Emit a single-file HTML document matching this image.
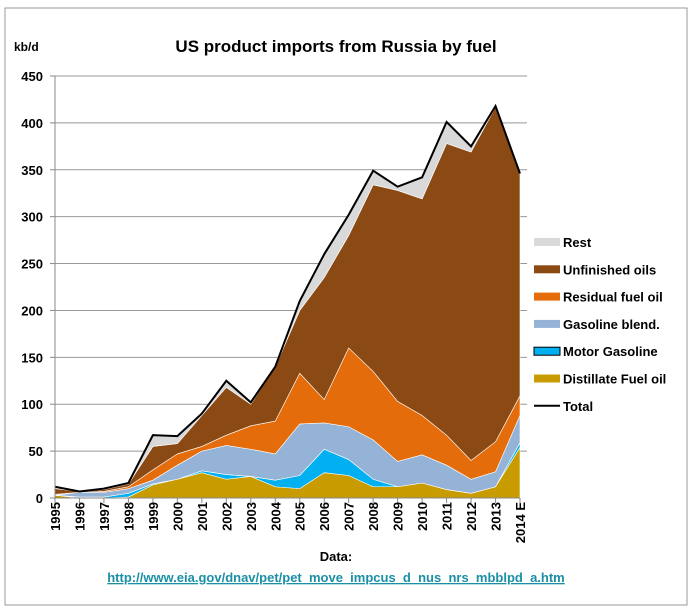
<!DOCTYPE html>
<html><head><meta charset="utf-8"><style>
body{margin:0;background:#fff;width:697px;height:611px;overflow:hidden;font-family:"Liberation Sans",sans-serif}
svg text{font-family:"Liberation Sans",sans-serif}
</style></head><body>
<svg id="chart" width="697" height="611">
<rect x="5" y="8" width="682" height="597" fill="#fff" stroke="#999" stroke-width="1"/>
<text x="336" y="52" font-size="17" font-weight="bold" text-anchor="middle">US product imports from Russia by fuel</text>
<text x="14" y="51" font-size="12" font-weight="bold">kb/d</text>
<g id="grid"></g><g id="areas"></g><g id="axes"></g><g id="legend"></g>
<text x="336" y="561" font-size="13" font-weight="bold" text-anchor="middle">Data:</text>
<text x="336" y="582" font-size="13" font-weight="bold" fill="#1a8fa6" text-anchor="middle" text-decoration="underline">http://www.eia.gov/dnav/pet/pet_move_impcus_d_nus_nrs_mbblpd_a.htm</text>
</svg>
<script>
const years=["1995","1996","1997","1998","1999","2000","2001","2002","2003","2004","2005","2006","2007","2008","2009","2010","2011","2012","2013","2014 E"];
const distillate=[3,0,0,1,14,20,27,20,23,12,10,27,24,12,12,16,9,5,12,54];
const motorGasoline=[0,1,1,4,1,0,2,5,0,7,14,25,17,8,0,0,0,0,0,5];
const gasolineBlend=[0,5,5,5,4,15,21,31,29,28,55,28,35,42,27,30,26,15,16,29];
const residual=[1,0,1,2,11,12,5,11,25,35,54,25,84,73,64,42,32,20,32,21];
const unfinished=[6,1,2,3,25,11,33,51,23,58,67,130,120,199,225,231,311,329,357,236];
const rest=[2,0,1,1,12,8,2,7,2,0,10,25,22,15,4,23,23,6,1,1];
const yTicks=[0,50,100,150,200,250,300,350,400,450];
const NS="http://www.w3.org/2000/svg";
const X0=55,X1=520,Y0=498,Y1=76,YMAX=450;
const xs=i=>X0+(X1-X0)*i/(years.length-1);
const ys=v=>Y0-(Y0-Y1)*v/YMAX;
function mk(tag,attrs,parent){const e=document.createElementNS(NS,tag);for(const k in attrs)e.setAttribute(k,attrs[k]);parent.appendChild(e);return e;}
const grid=document.getElementById('grid'),areas=document.getElementById('areas'),axes=document.getElementById('axes'),legend=document.getElementById('legend');
yTicks.forEach(t=>{
 if(t>0){const l=mk('line',{x1:X0,x2:X1+7,y1:ys(t),y2:ys(t),stroke:'#999','stroke-width':1},grid);
 
 }
 const tk=mk('line',{x1:X0-5,x2:X0,y1:ys(t),y2:ys(t),stroke:'#888'},axes);
 
 
 const tx=mk('text',{x:X0-12,y:ys(t)+5,'font-size':13,'font-weight':'bold','text-anchor':'end'},axes);tx.textContent=t;
 
 
});
const series=[
 {name:'distillate-fuel-oil',label:'Distillate Fuel oil',data:distillate,color:'#c89c00'},
 {name:'motor-gasoline',label:'Motor Gasoline',data:motorGasoline,color:'#00b0f0',swStroke:'#000'},
 {name:'gasoline-blend',label:'Gasoline blend.',data:gasolineBlend,color:'#95b3d7'},
 {name:'residual-fuel-oil',label:'Residual fuel oil',data:residual,color:'#e46c0a'},
 {name:'unfinished-oils',label:'Unfinished oils',data:unfinished,color:'#8b4a14'},
 {name:'rest',label:'Rest',data:rest,color:'#d9d9d9'}];
let base=years.map(()=>0);
series.forEach(s=>{
 const top=base.map((b,i)=>b+s.data[i]);
 let d='M'+years.map((_,i)=>xs(i)+','+ys(top[i])).join('L');
 for(let i=years.length-1;i>=0;i--)d+='L'+xs(i)+','+ys(base[i]);
 const p=mk('path',{d:d+'Z',fill:s.color,stroke:'#fff','stroke-width':0.6},areas);
 
 
 base=top;
});
const total=base;
const tl=mk('polyline',{points:years.map((_,i)=>xs(i)+','+ys(total[i])).join(' '),fill:'none',stroke:'#000','stroke-width':2},areas);


const xa=mk('line',{x1:X0,x2:X1,y1:Y0,y2:Y0,stroke:'#888'},axes);


const ya=mk('line',{x1:X0,x2:X0,y1:Y1,y2:Y0,stroke:'#888'},axes);


years.forEach((y,i)=>{
 const tk=mk('line',{x1:xs(i),x2:xs(i),y1:Y0,y2:Y0+5,stroke:'#888'},axes);
 
 
 const t=mk('text',{x:0,y:0,'font-size':13,'font-weight':'bold','text-anchor':'end',transform:`translate(${xs(i)+5},${Y0+4}) rotate(-90)`},axes);t.textContent=y;
 
 
});
const legItems=[series[5],series[4],series[3],series[2],series[1],series[0],{name:'total',label:'Total',line:true}];
legItems.forEach((s,k)=>{
 const y=242+k*27.3;
 const g=mk('g',{},legend);
 
 
 if(s.line)mk('line',{x1:534,x2:560,y1:y,y2:y,stroke:'#000','stroke-width':2},g);
 else mk('rect',{x:534,y:y-4,width:26,height:8,fill:s.color,stroke:s.swStroke||'none'},g);
 const t=mk('text',{x:563,y:y+5,'font-size':13,'font-weight':'bold'},g);t.textContent=s.label;
});
</script>
</body></html>
